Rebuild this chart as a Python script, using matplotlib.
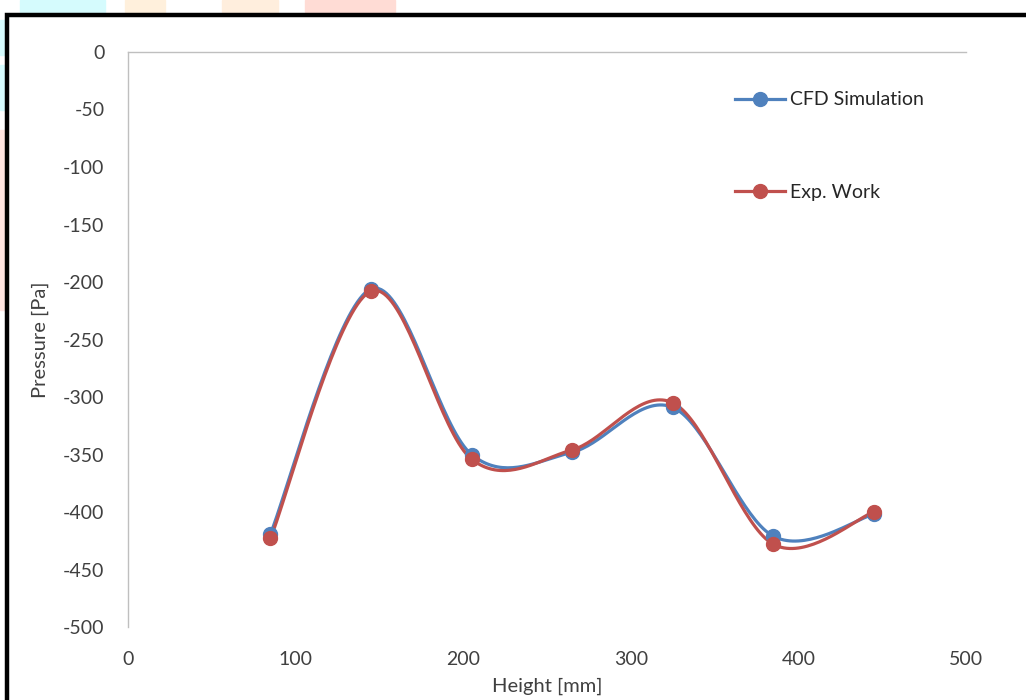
import matplotlib.pyplot as plt
import numpy as np
from matplotlib.patches import Rectangle

plt.rcParams['font.family'] = ['Lato', 'DejaVu Sans']
plt.rcParams['axes.unicode_minus'] = False

# data
height = [85, 145, 205, 265, 325, 385, 445]
cfd = [-419, -206, -350, -348, -309, -421, -402]
exp_work = [-423, -208, -354, -346, -305, -428, -400]


# Excel style smoothed line (bezier through every point)
def smooth(x, y, n=40):
    p = np.column_stack([x, y]).astype(float)
    p = np.vstack([p[0], p, p[-1]])
    out = []
    for i in range(1, len(p) - 2):
        p0, p1, p2, p3 = p[i - 1], p[i], p[i + 1], p[i + 2]
        c1 = p1 + (p2 - p0) / 6
        c2 = p2 - (p3 - p1) / 6
        t = np.linspace(0, 1, n)[:, None]
        seg = (1 - t) ** 3 * p1 + 3 * (1 - t) ** 2 * t * c1 + 3 * (1 - t) * t ** 2 * c2 + t ** 3 * p2
        out.append(seg)
    out = np.vstack(out)
    return out[:, 0], out[:, 1]


fig = plt.figure(figsize=(10.26, 7), dpi=100)
ax = fig.add_axes([128 / 1026, 1 - 627 / 700, (966 - 128) / 1026, (627 - 52) / 700])

blue = "#4F81BD"
red = "#C0504D"

for y, c, lab in [(cfd, blue, "CFD Simulation"), (exp_work, red, "Exp. Work")]:
    sx, sy = smooth(height, y)
    ax.plot(sx, sy, color=c, lw=2.3, zorder=3)
    ax.plot(height, y, "o", color=c, ms=10, zorder=4)
    ax.plot([], [], "-o", color=c, lw=2.3, ms=10, label=lab)

ax.set_xlim(0, 500)
ax.set_ylim(-500, 0)
ax.set_xticks(range(0, 501, 100))
ax.set_yticks(range(-500, 1, 50))
ax.tick_params(length=0, labelsize=14, colors="#404040")
ax.tick_params(axis="y", pad=17)
ax.tick_params(axis="x", pad=17)
ax.set_xlabel("Height [mm]", fontsize=14.5, color="#404040", labelpad=7)
ax.set_ylabel("Pressure [Pa]", fontsize=14.5, color="#404040", labelpad=10)

for s in ["bottom", "right"]:
    ax.spines[s].set_visible(False)
for s in ["top", "left"]:
    ax.spines[s].set_color("#BFBFBF")
    ax.spines[s].set_linewidth(1)

ax.legend(loc="upper left", bbox_to_anchor=(0.703, 0.962), frameon=False,
          fontsize=14, labelspacing=3.9, handlelength=2.6, handletextpad=0.25,
          labelcolor="#262626")

# faint coloured blobs outside the frame
blobs = [
    ([20, 105], [0, 12], "#d5fbfd"),
    ([125, 165], [0, 12], "#fff0dc"),
    ([222, 278], [0, 12], "#ffeedd"),
    ([305, 395], [0, 12], "#ffdcd5"),
]
for (x0, x1), (y0, y1), col in blobs:
    fig.patches.append(Rectangle((x0 / 1026, 1 - y1 / 700), (x1 - x0) / 1026, (y1 - y0) / 700,
                                 transform=fig.transFigure, color=col, zorder=0))
for (y0, y1), col in [((20, 55), "#d5fbfd"), ((65, 110), "#d5fbfd"), ((130, 310), "#ffe4e0")]:
    fig.patches.append(Rectangle((0, 1 - y1 / 700), 5 / 1026, (y1 - y0) / 700,
                                 transform=fig.transFigure, color=col, zorder=0))

# thick black frame
fig.patches.append(Rectangle((7 / 1026, -0.1), 1.2, 1 - 15 / 700 + 0.1, transform=fig.transFigure,
                             fill=False, edgecolor="black", lw=3.2, zorder=5))

fig.savefig("out.png", dpi=100)
